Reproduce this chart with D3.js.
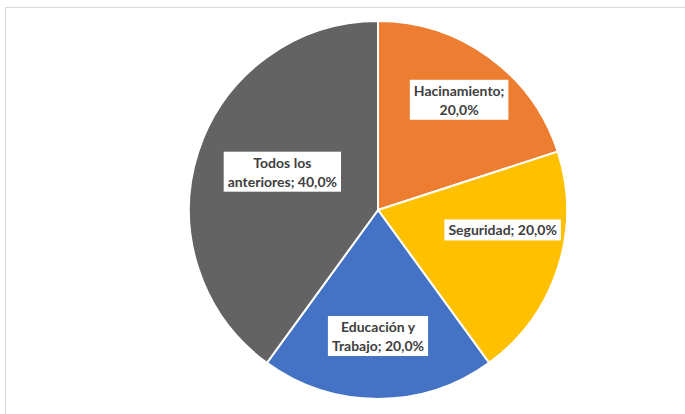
<!DOCTYPE html>
<html>
<head>
<meta charset="utf-8">
<script src="https://cdn.jsdelivr.net/npm/d3@7"></script>
<style>
  body { margin: 0; background: #fff; }
  svg { display: block; }
  .lbl { font-family: Lato, "Open Sans", sans-serif; font-weight: bold; font-size: 14px; fill: #404040; }
</style>
</head>
<body>
<script>

var width = 685,
	height = 414,
	radius = 189;

// data
var categories = ['Hacinamiento', 'Seguridad', 'Educación y Trabajo', 'Todos los anteriores'];
var values = [20.0, 20.0, 20.0, 40.0];
var labelLines = [
	['Hacinamiento;', '20,0%'],
	['Seguridad; 20,0%'],
	['Educación y', 'Trabajo; 20,0%'],
	['Todos los', 'anteriores; 40,0%']
];

var colors = ['#ED7D31', '#FFC000', '#4472C4', '#636363'];
// label radius (fraction of r) and nudges, roughly what excel "best fit" does
var labelR = [0.73, 0.66, 0.67, 0.56];
var labelNudge = [[0, 2], [6, -18], [0, 0], [5, -5]];

var cx = 378, cy = 210;

var svg = d3.select('body').append('svg')
	.attr('width', width)
	.attr('height', height);

// outer chart frame
svg.append('rect')
	.attr('x', 5.5)
	.attr('y', 7.5)
	.attr('width', width + 10)
	.attr('height', height + 10)
	.attr('fill', 'none')
	.attr('stroke', '#d9d9d9')
	.attr('stroke-width', 1);

var pie = d3.pie().sort(null).value(function(d){ return d; });
var arcs = pie(values);

var arc = d3.arc().innerRadius(0).outerRadius(radius);

var g = svg.append('g').attr('transform', 'translate(' + cx + ',' + cy + ')');

g.selectAll('.slice')
	.data(arcs)
	.enter().append('path').classed('slice', true)
	.attr('d', arc)
	.attr('fill', function(d, i){ return colors[i]; })
	.attr('stroke', '#fff')
	.attr('stroke-width', 2);

var lineH = 19;

var labels = g.selectAll('.label')
	.data(arcs)
	.enter().append('g').classed('label', true)
	.attr('transform', function(d, i){
		var a = d3.arc().innerRadius(radius * labelR[i]).outerRadius(radius * labelR[i]);
		var c = a.centroid(d);
		return 'translate(' + (c[0] + labelNudge[i][0]) + ',' + (c[1] + labelNudge[i][1]) + ')';
	});

labels.each(function(d, i){
	var lg = d3.select(this);
	var lines = labelLines[i];
	var rect = lg.append('rect').attr('fill', '#fff');
	var txt = lg.append('text').classed('lbl', true).attr('text-anchor', 'middle');
	var y0 = -(lines.length - 1) * lineH / 2;
	lines.forEach(function(t, k){
		txt.append('tspan').attr('x', 0).attr('y', y0 + k * lineH).attr('dy', '0.35em').text(t);
	});
	var bb = txt.node().getBBox();
	rect.attr('x', bb.x - 4).attr('y', bb.y - 2)
		.attr('width', bb.width + 8).attr('height', bb.height + 4);
});

</script>
</body>
</html>
